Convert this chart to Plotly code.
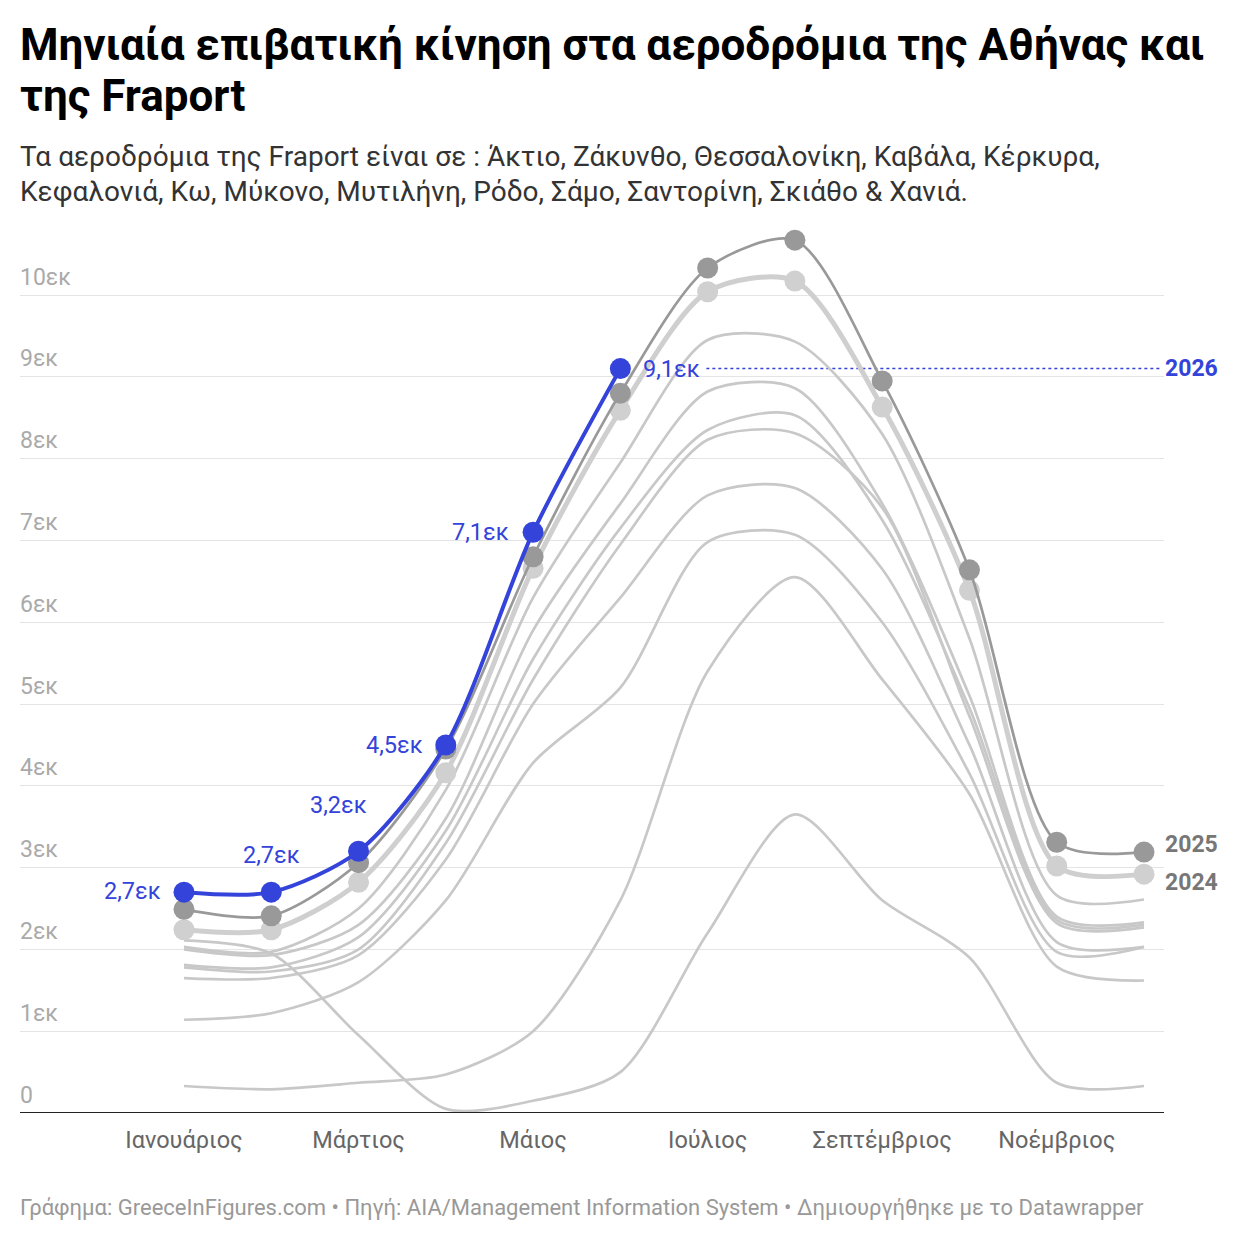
import plotly.graph_objects as go

# ---------------- data ----------------
month_idx = list(range(12))
tick_idx = [0, 2, 4, 6, 8, 10]
tick_text = ["Ιανουάριος", "Μάρτιος", "Μάιος", "Ιούλιος", "Σεπτέμβριος", "Νοέμβριος"]

# background years (light grey lines, no labels)
y2023 = [2.03, 1.97, 2.50, 3.95, 6.30, 7.95, 9.45, 9.43, 8.30, 5.80, 2.66, 2.61]
y2019 = [2.00, 1.93, 2.30, 3.60, 5.90, 7.45, 8.82, 8.86, 7.45, 5.10, 2.40, 2.33]
y2022 = [1.81, 1.78, 2.15, 3.45, 5.55, 7.15, 8.35, 8.53, 7.25, 4.95, 2.36, 2.30]
y2018 = [1.78, 1.73, 2.00, 3.30, 5.30, 6.95, 8.23, 8.31, 7.40, 4.85, 2.32, 2.27]
y2017 = [1.65, 1.65, 1.93, 3.10, 5.00, 6.30, 7.55, 7.64, 6.65, 4.50, 2.09, 2.03]
y2016 = [1.14, 1.22, 1.60, 2.60, 4.28, 5.20, 6.98, 7.07, 6.00, 4.15, 1.97, 2.03]
y2021 = [0.33, 0.29, 0.37, 0.47, 1.00, 2.60, 5.40, 6.55, 5.30, 3.90, 1.79, 1.62]
y2020 = [2.11, 1.95, 0.95, 0.05, 0.15, 0.50, 2.20, 3.65, 2.60, 1.90, 0.37, 0.33]

y2024 = [2.24, 2.24, 2.82, 4.16, 6.66, 8.59, 10.04, 10.17, 8.63, 6.39, 3.02, 2.92]
y2025 = [2.49, 2.41, 3.06, 4.45, 6.80, 8.80, 10.33, 10.67, 8.95, 6.64, 3.31, 3.19]
y2026 = [2.70, 2.70, 3.20, 4.50, 7.10, 9.10]

y_ticks = [0, 1, 2, 3, 4, 5, 6, 7, 8, 9, 10]

# ---------------- styling ----------------
W, H = 1240, 1240
L, R, T, B = 20, 76, 230, 127
BLUE = "#3443d9"
FONT = "Roboto"
SMOOTH = 0.8
plot_w = W - L - R
plot_h = H - T - B


def px_x(px):
    return (px - L) / plot_w


def px_y(py):
    return (H - B - py) / plot_h


fig = go.Figure()

for name, ys in [("2016", y2016), ("2017", y2017), ("2018", y2018), ("2019", y2019),
                 ("2020", y2020), ("2021", y2021), ("2022", y2022), ("2023", y2023)]:
    fig.add_trace(go.Scatter(
        x=month_idx, y=ys, mode="lines", name=name,
        line=dict(color="#c8c8c8", width=2.7, shape="spline", smoothing=SMOOTH),
        hoverinfo="skip", cliponaxis=False))

fig.add_trace(go.Scatter(
    x=month_idx, y=y2024, mode="lines+markers", name="2024",
    line=dict(color="#cfcfcf", width=5, shape="spline", smoothing=SMOOTH),
    marker=dict(color="#d0d0d0", size=21), cliponaxis=False))
fig.add_trace(go.Scatter(
    x=month_idx, y=y2025, mode="lines+markers", name="2025",
    line=dict(color="#999999", width=2.7, shape="spline", smoothing=SMOOTH),
    marker=dict(color="#999999", size=21), cliponaxis=False))
fig.add_trace(go.Scatter(
    x=month_idx[:len(y2026)], y=y2026, mode="lines+markers", name="2026",
    line=dict(color=BLUE, width=4, shape="spline", smoothing=SMOOTH),
    marker=dict(color=BLUE, size=21), cliponaxis=False))

ann = []
# y tick labels above gridlines
for v in y_ticks:
    ann.append(dict(xref="paper", yref="y", x=0, y=v, xanchor="left", yanchor="middle",
                    xshift=-2, yshift=18, text="0" if v == 0 else f"{v}εκ", showarrow=False,
                    font=dict(family=FONT, size=23, color="#aaaaaa")))

# value labels for 2026
placements = [("right", -21, 1), ("center", 0, 37), ("right", 10, 46),
              ("right", -21, 0), ("right", -22, 0), ("left", 21, 0)]
for i, v in enumerate(y2026):
    xa, xs, ys = placements[i]
    ann.append(dict(x=i, y=v, xref="x", yref="y", text=f"{v:.1f}".replace(".", ",") + "εκ",
                    showarrow=False, xanchor=xa, yanchor="middle", xshift=xs, yshift=ys,
                    font=dict(family=FONT, size=23.5, color=BLUE)))

# series labels on right
ann.append(dict(xref="paper", yref="y", x=1, y=y2026[-1], xanchor="left", yanchor="middle",
                xshift=-1, text="<b>2026</b>", showarrow=False,
                font=dict(family=FONT, size=23, color=BLUE)))
ann.append(dict(xref="paper", yref="y", x=1, y=y2025[-1], xanchor="left", yanchor="middle",
                xshift=-1, yshift=8, text="<b>2025</b>", showarrow=False,
                font=dict(family=FONT, size=23, color="#777777")))
ann.append(dict(xref="paper", yref="y", x=1, y=y2024[-1], xanchor="left", yanchor="middle",
                xshift=-1, yshift=-8, text="<b>2024</b>", showarrow=False,
                font=dict(family=FONT, size=23, color="#777777")))

# title / subtitle / footer
ann.append(dict(xref="paper", yref="paper", x=px_x(18), y=px_y(45), xanchor="left", yanchor="middle",
                text="<b>Μηνιαία επιβατική κίνηση στα αεροδρόμια της Αθήνας και</b>", showarrow=False,
                font=dict(family=FONT, size=44, color="#000000")))
ann.append(dict(xref="paper", yref="paper", x=px_x(18), y=px_y(96), xanchor="left", yanchor="middle",
                text="<b>της Fraport</b>", showarrow=False,
                font=dict(family=FONT, size=44, color="#000000")))
ann.append(dict(xref="paper", yref="paper", x=px_x(18), y=px_y(157), xanchor="left", yanchor="middle",
                text="Τα αεροδρόμια της Fraport είναι σε : Άκτιο, Ζάκυνθο, Θεσσαλονίκη, Καβάλα, Κέρκυρα,",
                showarrow=False, font=dict(family=FONT, size=28, color="#333333")))
ann.append(dict(xref="paper", yref="paper", x=px_x(18), y=px_y(191), xanchor="left", yanchor="middle",
                text="Κεφαλονιά, Κω, Μύκονο, Μυτιλήνη, Ρόδο, Σάμο, Σαντορίνη, Σκιάθο & Χανιά.",
                showarrow=False, font=dict(family=FONT, size=28, color="#333333")))
ann.append(dict(xref="paper", yref="paper", x=px_x(18), y=px_y(1207), xanchor="left", yanchor="middle",
                text="Γράφημα: GreeceInFigures.com • Πηγή: AIA/Management Information System • Δημιουργήθηκε με το Datawrapper",
                showarrow=False, font=dict(family=FONT, size=22, color="#999999")))

shapes = [
    # baseline
    dict(type="line", xref="paper", yref="y", x0=0, x1=1, y0=0, y1=0,
         line=dict(color="#222222", width=2), layer="above"),
    # dotted guide for 2026 latest value
    dict(type="line", xref="x", yref="y", xsizemode="pixel", xanchor=len(y2026) - 1,
         x0=86, x1=539, y0=y2026[-1], y1=y2026[-1],
         line=dict(color=BLUE, width=1.5, dash="dot"), layer="below"),
]

fig.update_layout(
    width=W, height=H,
    margin=dict(l=L, r=R, t=T, b=B, pad=0),
    paper_bgcolor="white", plot_bgcolor="white",
    showlegend=False,
    font=dict(family=FONT),
    annotations=ann, shapes=shapes,
    xaxis=dict(range=[-1.879, 11.229], tickvals=tick_idx, ticktext=tick_text,
               showgrid=False, zeroline=False, showline=False, ticks="",
               ticklabelstandoff=10,
               tickfont=dict(family=FONT, size=23.5, color="#666666"), fixedrange=True),
    yaxis=dict(range=[0, (H - B - T) / 81.8], tickvals=y_ticks, showticklabels=False,
               showgrid=True, gridcolor="#e4e4e4", gridwidth=1, zeroline=False,
               showline=False, ticks="", fixedrange=True),
)

fig.write_html("out.html")
